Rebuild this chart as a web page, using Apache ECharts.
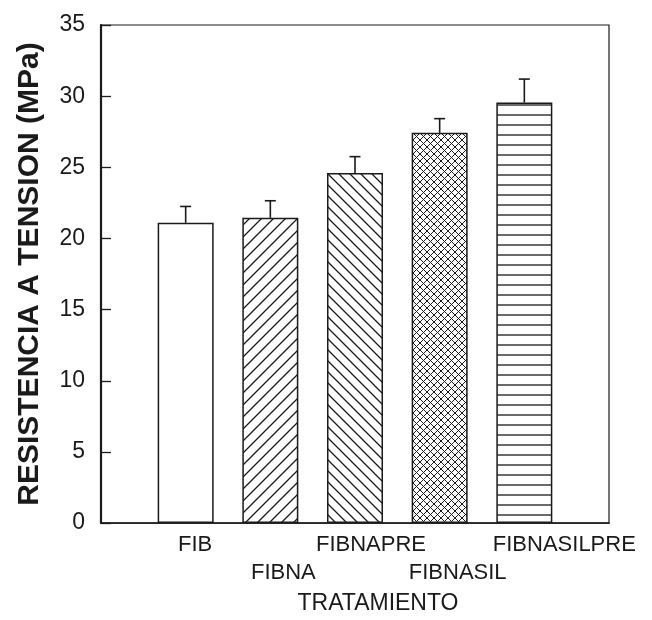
<!DOCTYPE html>
<html>
<head>
<meta charset="utf-8">
<script src="https://cdn.jsdelivr.net/npm/echarts@6/dist/echarts.min.js"></script>
<style>
  html, body { margin: 0; padding: 0; background: #fff; }
  #chart { width: 652px; height: 620px; }
</style>
</head>
<body>
<div id="chart"></div>
<script>
// Tensile strength by treatment
const categories = ['FIB', 'FIBNA', 'FIBNAPRE', 'FIBNASIL', 'FIBNASILPRE'];
const strength = [21.1, 21.45, 24.6, 27.42, 29.55];
const stdError = [1.15, 1.2, 1.15, 1.0, 1.65];
const yTicks = [0, 5, 10, 15, 20, 25, 30, 35];
const hatchKinds = ['none', 'slash', 'backslash', 'cross', 'horizontal'];

const INK = '#1a1a1a';
const FONT = '"Liberation Sans", Arial, Helvetica, sans-serif';

// small repeating tiles for the bar fills
function makeHatch(kind) {
  if (kind === 'none') return '#ffffff';
  const sizes = { slash: 12, backslash: 11, cross: 7, horizontal: 10 };
  const s = sizes[kind];
  const c = document.createElement('canvas');
  c.width = s; c.height = s;
  const g = c.getContext('2d');
  g.fillStyle = '#fff';
  g.fillRect(0, 0, s, s);
  g.strokeStyle = INK;
  g.lineWidth = kind === 'cross' ? 1.0 : 1.3;
  g.beginPath();
  if (kind === 'slash' || kind === 'cross') {
    g.moveTo(-1, s + 1); g.lineTo(s + 1, -1);
    g.moveTo(-1, 1); g.lineTo(1, -1);
    g.moveTo(s - 1, s + 1); g.lineTo(s + 1, s - 1);
  }
  if (kind === 'backslash' || kind === 'cross') {
    g.moveTo(-1, -1); g.lineTo(s + 1, s + 1);
    g.moveTo(s - 1, -1); g.lineTo(s + 1, 1);
    g.moveTo(-1, s - 1); g.lineTo(1, s + 1);
  }
  if (kind === 'horizontal') {
    g.moveTo(0, s / 2); g.lineTo(s, s / 2);
  }
  g.stroke();
  return { image: c, repeat: 'repeat' };
}

// empty slots at both ends so the bars sit at positions 1..5
const axisCats = [''].concat(categories, ['']);
const labelShift = [0, 19, 26, 32, 36, 80];

const rich = {};
categories.forEach((_, i) => {
  rich['l' + (i + 1)] = {
    fontSize: 22, lineHeight: 28, color: INK, fontFamily: FONT,
    padding: [0, 0, 0, labelShift[i + 1]]
  };
});

const chart = echarts.init(document.getElementById('chart'), null, { renderer: 'canvas' });

chart.setOption({
  animation: false,
  backgroundColor: '#fff',
  grid: {
    left: 101, right: 43, top: 25, bottom: 87,
    show: true, borderColor: INK, borderWidth: 1.2, backgroundColor: 'transparent'
  },
  xAxis: {
    type: 'category',
    data: axisCats,
    boundaryGap: false,
    axisLine: { lineStyle: { color: INK, width: 1.6 } },
    axisTick: { show: false },
    splitLine: { show: false },
    axisLabel: {
      interval: 0, margin: 8, fontSize: 22, lineHeight: 28, color: INK, fontFamily: FONT,
      formatter: (v, i) => {
        if (!v) return '';
        const second = (i - 1) % 2 === 1;
        return (second ? '\n' : '') + '{l' + i + '|' + v + '}';
      },
      rich: rich
    },
    name: 'TRATAMIENTO',
    nameLocation: 'middle',
    nameGap: 63,
    nameTextStyle: { fontSize: 23, color: INK, fontFamily: FONT, padding: [0, 0, 0, 46] }
  },
  yAxis: {
    type: 'value',
    min: yTicks[0],
    max: yTicks[yTicks.length - 1],
    interval: 5,
    axisLine: { show: true, lineStyle: { color: INK, width: 2.2 } },
    axisTick: { show: true, inside: true, length: 10, lineStyle: { color: INK, width: 1.3 } },
    splitLine: { show: false },
    axisLabel: { margin: 16, fontSize: 23, color: INK, fontFamily: FONT },
    name: 'RESISTENCIA A TENSION (MPa)',
    nameLocation: 'middle',
    nameRotate: 90,
    nameGap: 56,
    nameTextStyle: { fontSize: 30, fontWeight: 'bold', color: INK, fontFamily: FONT }
  },
  series: [
    {
      type: 'bar',
      barWidth: 56,
      data: strength.map((v, i) => ({
        value: [i + 1, v],
        itemStyle: { color: makeHatch(hatchKinds[i]) }
      })),
      itemStyle: { borderColor: INK, borderWidth: 1.5 },
      z: 2
    },
    {
      type: 'custom',
      z: 3,
      data: strength.map((v, i) => [i + 1, v, stdError[i]]),
      renderItem: (params, api) => {
        const base = api.coord([api.value(0), api.value(1)]);
        const top = api.coord([api.value(0), api.value(1) + api.value(2)]);
        const cap = 5.5;
        const style = { stroke: INK, lineWidth: 1.6 };
        return {
          type: 'group',
          children: [
            { type: 'line', shape: { x1: base[0], y1: base[1], x2: top[0], y2: top[1] }, style: style },
            { type: 'line', shape: { x1: top[0] - cap, y1: top[1], x2: top[0] + cap, y2: top[1] }, style: style }
          ]
        };
      }
    }
  ]
});
</script>
</body>
</html>
